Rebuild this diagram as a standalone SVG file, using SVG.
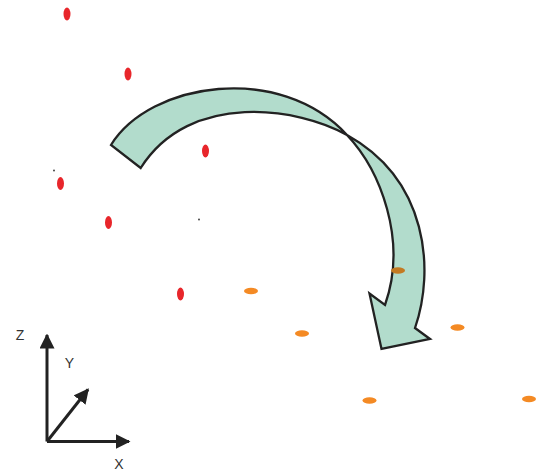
<svg xmlns="http://www.w3.org/2000/svg" width="540" height="472" viewBox="0 0 540 472">
<style>
.red{fill:#e8262b}
.org{fill:#f48a24}
.ax{stroke:#222;stroke-width:3;fill:none}
.lbl{font-family:"Liberation Sans",Arial,sans-serif;font-size:14px;fill:#333}
</style>
<defs>
<marker id="ah" viewBox="0 0 10 10" refX="9" refY="5" markerWidth="5" markerHeight="5" orient="auto" markerUnits="strokeWidth">
<path d="M0,0 L10,5 L0,10 Z" fill="#222"/>
</marker>
</defs>
<rect width="540" height="472" fill="#fff"/>
<g id="red-dots">
<ellipse class="red" cx="67" cy="14" rx="3.5" ry="6.5"/>
<ellipse class="red" cx="128" cy="74" rx="3.5" ry="6.5"/>
<ellipse class="red" cx="205.5" cy="151" rx="3.5" ry="6.5"/>
<ellipse class="red" cx="60.5" cy="183.5" rx="3.5" ry="6.5"/>
<ellipse class="red" cx="108.5" cy="222.5" rx="3.5" ry="6.5"/>
<ellipse class="red" cx="180.5" cy="294" rx="3.5" ry="6.5"/>
</g>
<g id="black-dots">
<circle cx="54" cy="170.5" r="0.9" fill="#333"/>
<circle cx="199" cy="219.5" r="0.9" fill="#333"/>
</g>
<g id="orange-dots">
<ellipse class="org" cx="251" cy="291" rx="7" ry="3.3"/>
<ellipse class="org" cx="302" cy="333.5" rx="7" ry="3.3"/>
<ellipse class="org" cx="457.5" cy="327.5" rx="7" ry="3.3"/>
<ellipse class="org" cx="369.5" cy="400.5" rx="7" ry="3.3"/>
<ellipse class="org" cx="529" cy="399" rx="7" ry="3.3"/>
</g>
<g id="curved-arrow">
<path d="M111,145 C150,82 280,62 347,135 C380,170 408,240 385,305 L369.5,293.5 L381.5,349 L430,339 L415,328 C435,270 428,180 347,135 C300,108 190,90 140.7,168 Z" fill="#b2dccc" stroke="#222" stroke-width="2.3" stroke-linejoin="miter"/>
<ellipse cx="398" cy="270.5" rx="7" ry="3.3" fill="#c47a22"/>
</g>
<g id="axes">
<path class="ax" d="M47,441.5 L47,335" marker-end="url(#ah)"/>
<path class="ax" d="M47,441.5 L129,441.5" marker-end="url(#ah)"/>
<path class="ax" d="M47,441.5 L88,389.5" marker-end="url(#ah)"/>
<text class="lbl" x="20" y="340" text-anchor="middle">Z</text>
<text class="lbl" x="69.5" y="368" text-anchor="middle">Y</text>
<text class="lbl" x="119" y="469" text-anchor="middle">X</text>
</g>
</svg>
